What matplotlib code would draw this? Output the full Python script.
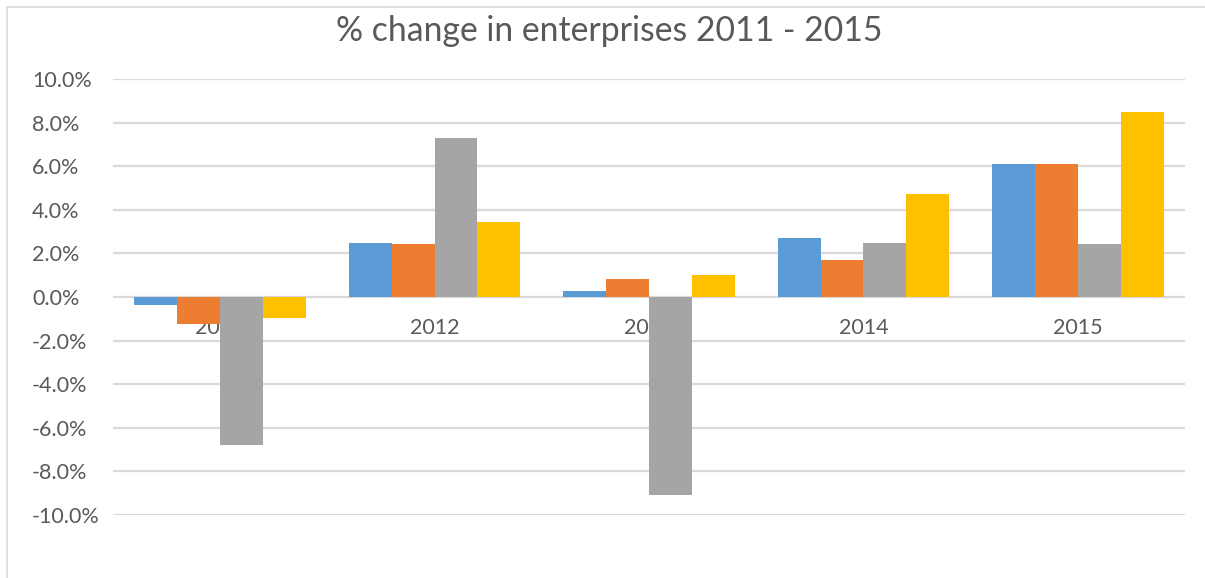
import matplotlib
matplotlib.use("Agg")
import matplotlib.pyplot as plt
import numpy as np
from matplotlib.patches import Rectangle
from matplotlib.ticker import FuncFormatter

years = ["2011", "2012", "2013", "2014", "2015"]

# % change per year, four enterprise series
series_1 = [-0.35, 2.50, 0.29, 2.69, 6.10]
series_2 = [-1.24, 2.43, 0.84, 1.68, 6.10]
series_3 = [-6.81, 7.30, -9.10, 2.50, 2.43]
series_4 = [-0.95, 3.45, 1.02, 4.71, 8.50]

colors = ["#5B9BD5", "#ED7D31", "#A5A5A5", "#FFC000"]
text_grey = "#595959"
grid_grey = "#D9D9D9"

W, H, DPI = 1205, 578, 100
fig = plt.figure(figsize=(W / DPI, H / DPI), dpi=DPI)
plt.rcParams["font.family"] = ["Lato", "DejaVu Sans"]

ax = fig.add_axes([113 / W, 1 - 515 / H, (1185 - 113) / W, (515 - 79) / H])

x = np.arange(len(years))
width = 0.2
for i, (vals, c) in enumerate(zip([series_1, series_2, series_3, series_4], colors)):
    ax.bar(x + (i - 1.5) * width, vals, width, color=c, zorder=3)

ax.set_xlim(-0.5, len(years) - 0.5)
ax.set_ylim(-10, 10)
ax.set_yticks(np.arange(-10, 10.1, 2))
ax.yaxis.set_major_formatter(FuncFormatter(lambda v, _: f"{v:.1f}%"))
ax.grid(axis="y", color=grid_grey, linewidth=1.6, zorder=0)
ax.set_axisbelow(True)
for s in ax.spines.values():
    s.set_visible(False)
ax.set_xticks([])
ax.tick_params(axis="y", length=0, pad=(113 - 32) * 72 / DPI,
               labelsize=15.5, labelcolor=text_grey)
for lbl in ax.get_yticklabels():
    lbl.set_horizontalalignment("left")

# category labels sit on the zero line, under the bars
for xi, yr in zip(x, years):
    ax.annotate(yr, (xi, 0), xytext=(0, -31 * 72 / DPI), textcoords="offset points",
                ha="center", va="center", fontsize=15.5, color=text_grey, zorder=1)

fig.text(609 / W, 1 - 31 / H, "% change in enterprises 2011 - 2015",
         ha="center", va="center", fontsize=24.3, color=text_grey)

# chart frame
fig.patches.append(Rectangle((7 / W, -0.1), 1.2, 1 - 7 / H + 0.1,
                             transform=fig.transFigure, fill=False,
                             edgecolor="#D9D9D9", linewidth=1.2))

fig.savefig("out.png", dpi=DPI)
